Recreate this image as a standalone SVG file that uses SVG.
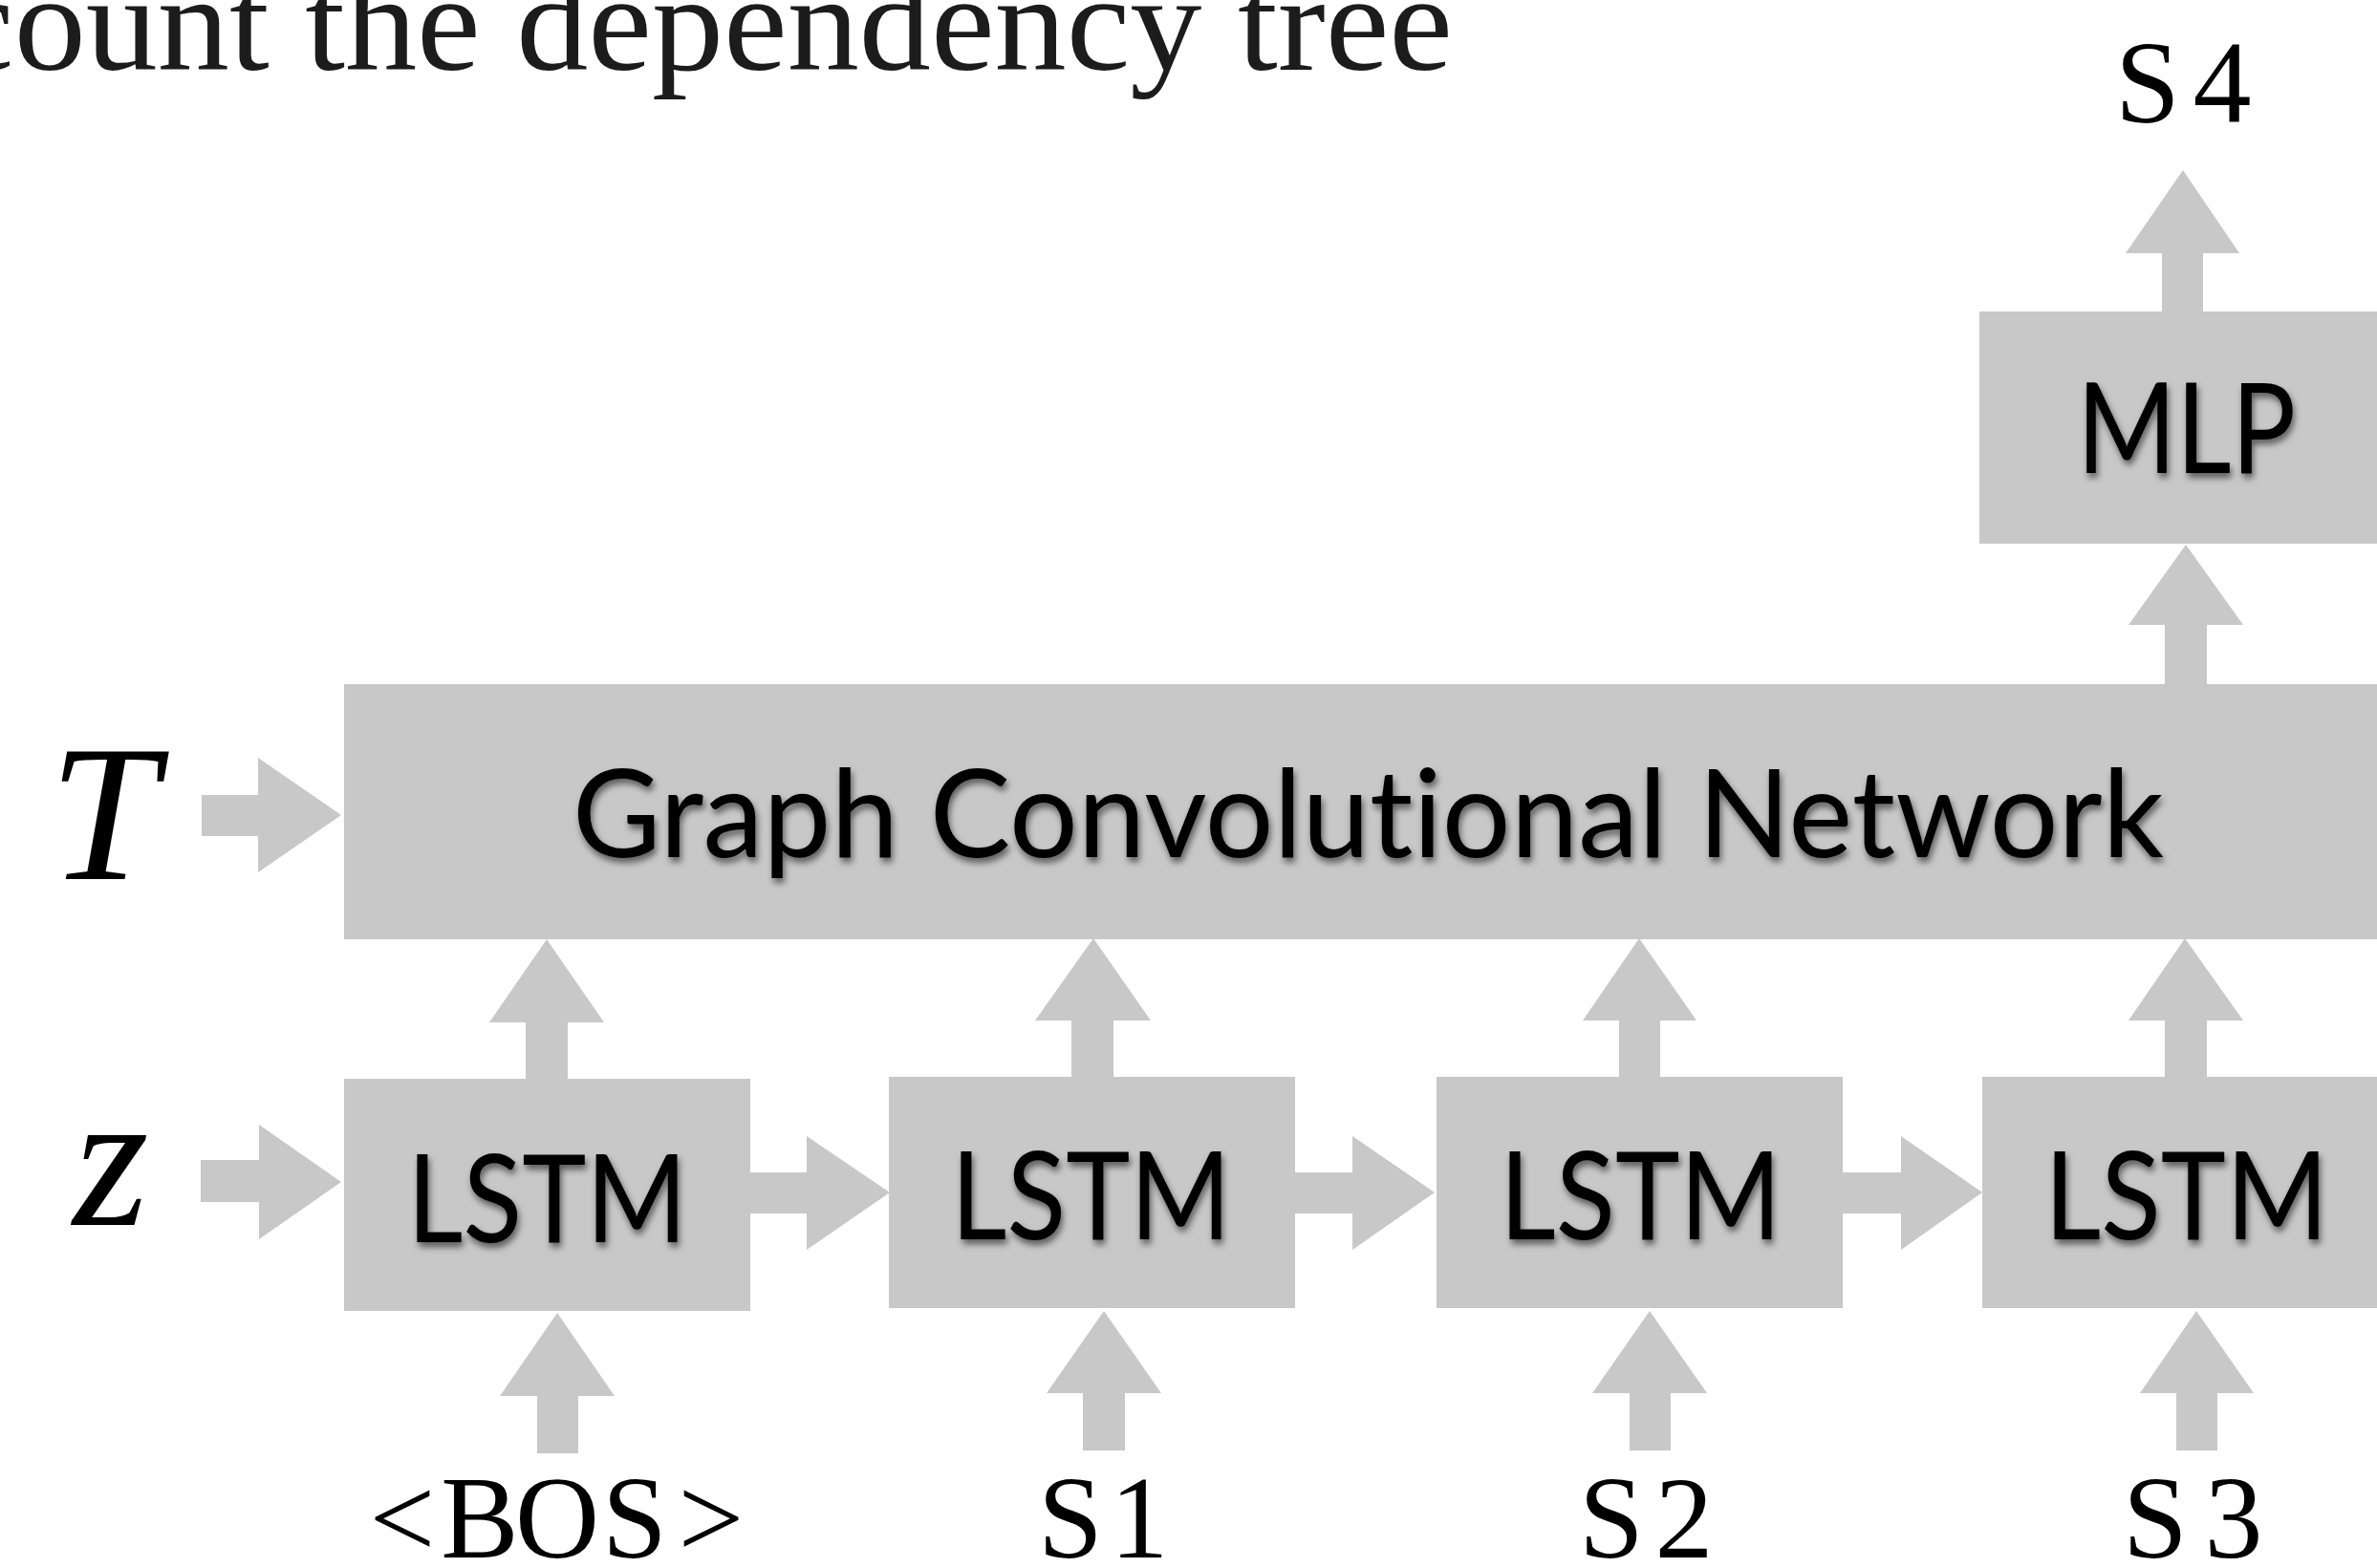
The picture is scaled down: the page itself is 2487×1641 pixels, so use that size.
<svg xmlns="http://www.w3.org/2000/svg" width="2487" height="1641" viewBox="0 0 2487 1641">
  <defs>
    <filter id="textShadow" x="-10%" y="-30%" width="120%" height="160%">
      <feDropShadow dx="2" dy="5" stdDeviation="3.5" flood-color="#000" flood-opacity="0.55"/>
    </filter>
  </defs>
  <style>
    .box { fill: #c8c8c8; }
    .arrow { fill: #c8c8c8; }
    .label { font-family: Lato, "Open Sans", "DejaVu Sans", sans-serif; font-variant-ligatures: none; fill: #000; filter: url(#textShadow); }
    .token { font-family: "Liberation Serif", "Times New Roman", serif; font-size: 122px; fill: #000; text-anchor: middle; }
    .math { font-family: "Liberation Serif", "Times New Roman", serif; font-style: italic; font-size: 204px; fill: #000; text-anchor: middle; }
    .title { font-family: "Liberation Serif", "Times New Roman", serif; font-size: 145px; fill: #1c1c1c; }
  </style>

  <rect width="2487" height="1641" fill="#fff"/>

  <!-- heading line, partly outside the canvas -->
  <text class="title" x="-52" y="73" textLength="1572" lengthAdjust="spacingAndGlyphs">count the dependency tree</text>

  <!-- connectors: block arrows -->
  <g id="connectors">
    <!-- inputs from the left -->
    <polygon class="arrow" points="211,832 270,832 270,793 357,853 270,913 270,875 211,875"/>
    <polygon class="arrow" points="210,1214 271,1214 271,1177 357,1237 271,1297 271,1258 210,1258"/>
    <!-- LSTM chain -->
    <polygon class="arrow" points="785,1227 844,1227 844,1189 931,1248 844,1308 844,1270 785,1270"/>
    <polygon class="arrow" points="1355,1227 1415,1227 1415,1189 1501,1248 1415,1308 1415,1270 1355,1270"/>
    <polygon class="arrow" points="1928,1227 1989,1227 1989,1189 2074,1248 1989,1308 1989,1270 1928,1270"/>
    <!-- LSTM to GCN -->
    <polygon class="arrow" points="550,1130 550,1070 512,1070 572,983 632,1070 594,1070 594,1130"/>
    <polygon class="arrow" points="1121,1127 1121,1068 1083,1068 1144,982 1204,1068 1165,1068 1165,1127"/>
    <polygon class="arrow" points="1694,1127 1694,1068 1656,1068 1715,982 1775,1068 1737,1068 1737,1127"/>
    <polygon class="arrow" points="2265,1127 2265,1068 2227,1068 2286,982 2347,1068 2309,1068 2309,1127"/>
    <!-- GCN to MLP, MLP to output -->
    <polygon class="arrow" points="2265,716 2265,654 2227,654 2287,570 2347,654 2309,654 2309,716"/>
    <polygon class="arrow" points="2262,326 2262,265 2224,265 2284,178 2343,265 2305,265 2305,326"/>
    <!-- tokens into LSTMs -->
    <polygon class="arrow" points="562,1521 562,1461 523,1461 583,1374 643,1461 605,1461 605,1521"/>
    <polygon class="arrow" points="1133,1518 1133,1458 1095,1458 1155,1372 1215,1458 1177,1458 1177,1518"/>
    <polygon class="arrow" points="1705,1518 1705,1458 1666,1458 1726,1372 1786,1458 1748,1458 1748,1518"/>
    <polygon class="arrow" points="2277,1518 2277,1458 2239,1458 2298,1372 2358,1458 2320,1458 2320,1518"/>
  </g>

  <!-- input symbols -->
  <g id="input-T">
    <text class="math" x="108" y="920">T</text>
  </g>
  <g id="input-z">
    <text class="math" x="116" y="1282">z</text>
  </g>

  <!-- Graph Convolutional Network -->
  <g id="gcn">
    <rect class="box" x="360" y="716" width="2140" height="267"/>
    <text class="label" x="599" y="897" font-size="128" textLength="1665" lengthAdjust="spacingAndGlyphs">Graph Convolutional Network</text>
  </g>

  <!-- MLP -->
  <g id="mlp">
    <rect class="box" x="2071" y="326" width="430" height="243"/>
    <text class="label" x="2173" y="495" font-size="131" textLength="229" lengthAdjust="spacingAndGlyphs">MLP</text>
  </g>

  <!-- LSTM cells -->
  <g id="lstm1">
    <rect class="box" x="360" y="1129" width="425" height="243"/>
    <text class="label" x="426" y="1300" font-size="128" textLength="293" lengthAdjust="spacingAndGlyphs">LSTM</text>
  </g>
  <g id="lstm2">
    <rect class="box" x="930" y="1127" width="425" height="242"/>
    <text class="label" x="995" y="1297" font-size="128" textLength="293" lengthAdjust="spacingAndGlyphs">LSTM</text>
  </g>
  <g id="lstm3">
    <rect class="box" x="1503" y="1127" width="425" height="242"/>
    <text class="label" x="1569" y="1297" font-size="128" textLength="295" lengthAdjust="spacingAndGlyphs">LSTM</text>
  </g>
  <g id="lstm4">
    <rect class="box" x="2074" y="1127" width="430" height="242"/>
    <text class="label" x="2139" y="1297" font-size="128" textLength="297" lengthAdjust="spacingAndGlyphs">LSTM</text>
  </g>

  <!-- token labels, one fixed-pitch cell per character -->
  <g id="tok-bos"><text class="token" x="421 502 583 664 744" y="1630">&lt;BOS&gt;</text></g>
  <g id="tok-s1"><text class="token" x="1120 1192" y="1630">S1</text></g>
  <g id="tok-s2"><text class="token" x="1686 1762" y="1630">S2</text></g>
  <g id="tok-s3"><text class="token" x="2255 2337" y="1630">S3</text></g>
  <g id="tok-s4"><text class="token" x="2247 2325" y="128">S4</text></g>
</svg>
